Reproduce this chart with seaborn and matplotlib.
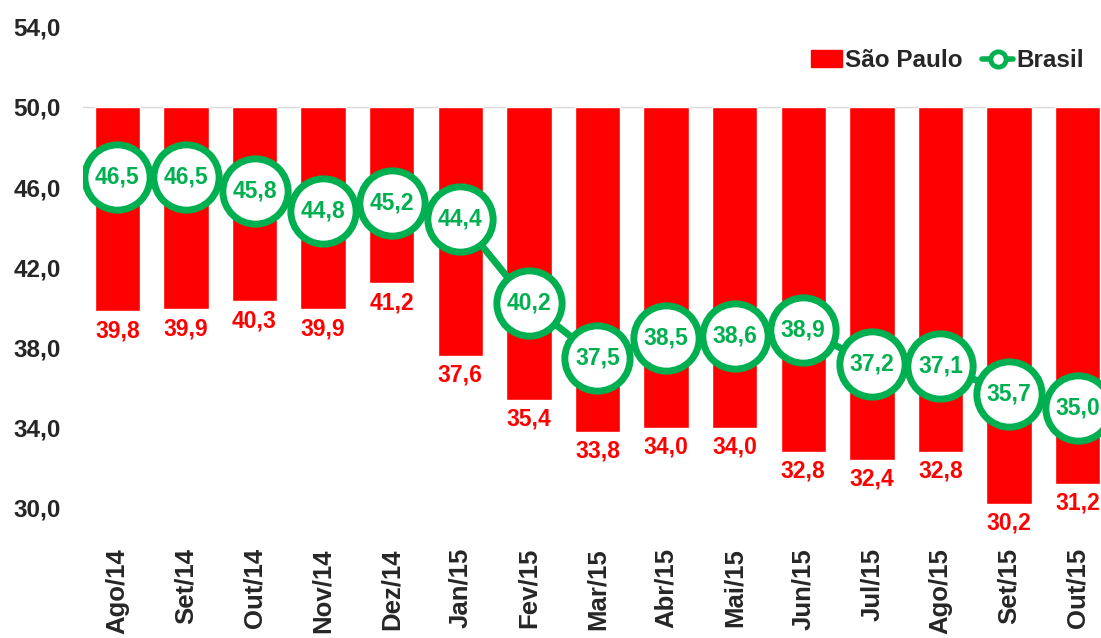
import numpy as np
import pandas as pd
import matplotlib
matplotlib.use("Agg")
import matplotlib.pyplot as plt
import seaborn as sns
from matplotlib.patches import Patch
from matplotlib.lines import Line2D

meses = ['Ago/14', 'Set/14', 'Out/14', 'Nov/14', 'Dez/14', 'Jan/15', 'Fev/15', 'Mar/15',
         'Abr/15', 'Mai/15', 'Jun/15', 'Jul/15', 'Ago/15', 'Set/15', 'Out/15']
sao_paulo = [39.8, 39.9, 40.3, 39.9, 41.2, 37.6, 35.4, 33.8, 34.0, 34.0, 32.8, 32.4, 32.8, 30.2, 31.2]
brasil = [46.5, 46.5, 45.8, 44.8, 45.2, 44.4, 40.2, 37.5, 38.5, 38.6, 38.9, 37.2, 37.1, 35.7, 35.0]
base = 50.0
y_ticks = [30, 34, 38, 42, 46, 50, 54]

VERMELHO = '#FF0000'
VERDE = '#00B050'

sns.set_style("white")
plt.rcParams['font.family'] = ['Liberation Sans', 'DejaVu Sans']
plt.rcParams['font.weight'] = 'bold'

fig = plt.figure(figsize=(11.01, 6.38), dpi=100)
ax = fig.add_axes([0.0754, 0.141, 0.9246, 0.817])

df = pd.DataFrame({'mes': meses, 'sp': sao_paulo, 'br': brasil})
df['altura'] = df['sp'] - base

# barras "penduradas" a partir de 50
sns.barplot(data=df, x='mes', y='altura', bottom=base, color=VERMELHO, saturation=1,
            width=0.66, ax=ax, zorder=2)

ax.axhline(base, color='#d9d9d9', lw=1, zorder=1)

# linha Brasil
pos = np.arange(len(meses))
sns.lineplot(x=pos, y=df['br'], ax=ax, color=VERDE, lw=5, marker='o', markersize=47,
             markerfacecolor='white', markeredgecolor=VERDE, markeredgewidth=5,
             zorder=4, legend=False)

def fmt(v):
    return f"{v:.1f}".replace('.', ',')

for i, v in enumerate(sao_paulo):
    ax.annotate(fmt(v), (i, v), xytext=(0, -14), textcoords='offset points',
                ha='center', va='center', color=VERMELHO, fontsize=16.5, fontweight='bold')
for i, v in enumerate(brasil):
    ax.text(i, v, fmt(v), ha='center', va='center', color=VERDE, fontsize=16.5,
            fontweight='bold', zorder=5)

ax.set_ylim(28, 54)
ax.set_xlim(-0.5, 14.34)
ax.set_yticks(y_ticks)
ax.set_yticklabels([fmt(t) for t in y_ticks], fontsize=17.5, fontweight='bold')
ax.set_xticks(pos)
ax.set_xticklabels(meses, rotation=90, fontsize=18.5, fontweight='bold')
ax.tick_params(axis='y', length=0, pad=16)
ax.tick_params(axis='x', length=0, pad=0)
ax.set_xlabel('')
ax.set_ylabel('')
for s in ax.spines.values():
    s.set_visible(False)

handles = [Patch(color=VERMELHO, label='São Paulo'),
           Line2D([0], [0], color=VERDE, lw=4, marker='o', markersize=11,
                  markerfacecolor='white', markeredgecolor=VERDE, markeredgewidth=3.5,
                  label='Brasil')]
fig.legend(handles=handles, loc='center right', bbox_to_anchor=(0.9935, 0.905), ncol=2,
           frameon=False, handlelength=1.25, handletextpad=0.15, borderaxespad=0,
           columnspacing=0.8, prop={'weight': 'bold', 'size': 17.5})

fig.savefig('out.png', dpi=100)
